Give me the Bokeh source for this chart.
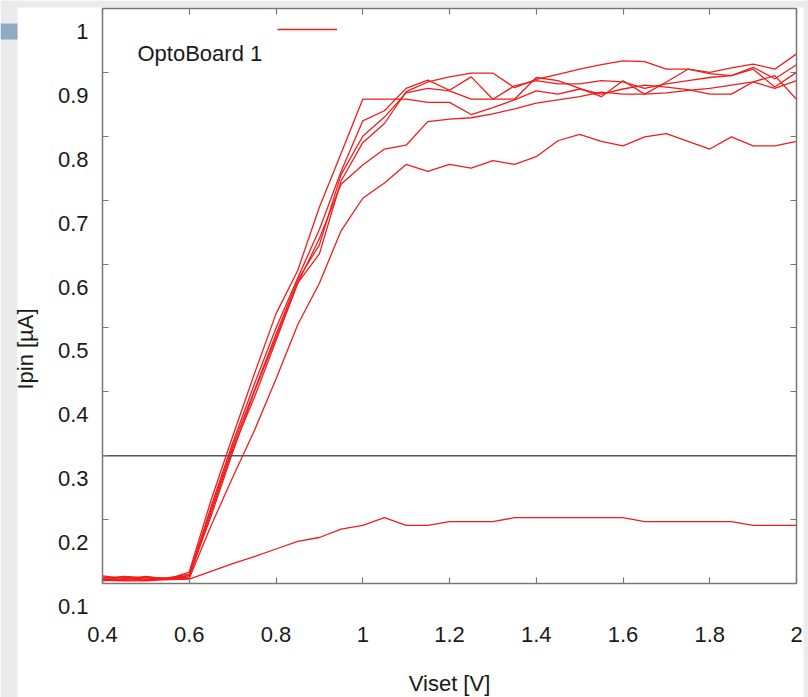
from bokeh.plotting import figure
from bokeh.models import (Label, Legend, LegendItem, LinearAxis, FixedTicker, Range1d,
                          BoxAnnotation)
from bokeh.embed import file_html
from bokeh.resources import INLINE

# ---------------- data ----------------
viset = [0.40, 0.45, 0.50, 0.55, 0.60, 0.65, 0.70, 0.75, 0.80, 0.85, 0.90,
         0.95, 1.00, 1.05, 1.10, 1.15, 1.20, 1.25, 1.30, 1.35, 1.40, 1.45,
         1.50, 1.55, 1.60, 1.65, 1.70, 1.75, 1.80, 1.85, 1.90, 1.95, 2.00]

ipin_a = [0.110, 0.106, 0.111, 0.107, 0.118, 0.230, 0.330, 0.428, 0.522, 0.590, 0.689,
          0.773, 0.858, 0.858, 0.858, 0.853, 0.853, 0.834, 0.845, 0.857, 0.871, 0.866,
          0.874, 0.866, 0.874, 0.880, 0.877, 0.873, 0.866, 0.866, 0.885, 0.875, 0.887]
ipin_b = [0.106, 0.110, 0.107, 0.109, 0.112, 0.220, 0.320, 0.412, 0.500, 0.578, 0.654,
          0.745, 0.824, 0.840, 0.875, 0.888, 0.872, 0.893, 0.858, 0.858, 0.892, 0.887,
          0.875, 0.862, 0.887, 0.866, 0.885, 0.905, 0.898, 0.895, 0.908, 0.890, 0.912]
ipin_c = [0.112, 0.108, 0.105, 0.108, 0.115, 0.215, 0.315, 0.402, 0.490, 0.575, 0.630,
          0.740, 0.800, 0.830, 0.868, 0.875, 0.871, 0.858, 0.858, 0.879, 0.887, 0.882,
          0.882, 0.887, 0.885, 0.875, 0.882, 0.887, 0.892, 0.895, 0.905, 0.877, 0.900]
ipin_d = [0.108, 0.111, 0.109, 0.106, 0.113, 0.205, 0.305, 0.400, 0.485, 0.570, 0.640,
          0.725, 0.755, 0.780, 0.786, 0.823, 0.827, 0.829, 0.835, 0.843, 0.852, 0.857,
          0.862, 0.869, 0.866, 0.866, 0.868, 0.872, 0.875, 0.880, 0.885, 0.895, 0.858]
ipin_e = [0.104, 0.107, 0.110, 0.108, 0.110, 0.210, 0.310, 0.391, 0.480, 0.570, 0.616,
          0.730, 0.790, 0.820, 0.870, 0.885, 0.893, 0.899, 0.899, 0.876, 0.889, 0.897,
          0.905, 0.912, 0.918, 0.917, 0.905, 0.905, 0.900, 0.907, 0.913, 0.905, 0.929]
ipin_f = [0.107, 0.105, 0.106, 0.107, 0.108, 0.190, 0.266, 0.339, 0.420, 0.505, 0.570,
          0.652, 0.703, 0.727, 0.756, 0.745, 0.756, 0.750, 0.762, 0.756, 0.768, 0.793,
          0.803, 0.792, 0.785, 0.799, 0.804, 0.792, 0.780, 0.799, 0.785, 0.785, 0.792]
ipin_g = [0.105, 0.104, 0.104, 0.106, 0.107, 0.119, 0.131, 0.142, 0.154, 0.166, 0.172,
          0.185, 0.191, 0.203, 0.191, 0.191, 0.197, 0.197, 0.197, 0.203, 0.203, 0.203,
          0.203, 0.203, 0.203, 0.197, 0.197, 0.197, 0.197, 0.197, 0.191, 0.191, 0.191]

threshold = 0.3

xticks = [0.4, 0.6, 0.8, 1.0, 1.2, 1.4, 1.6, 1.8, 2.0]
xtick_labels = ["0.4", "0.6", "0.8", "1", "1.2", "1.4", "1.6", "1.8", "2"]
yticks = [0.1, 0.2, 0.3, 0.4, 0.5, 0.6, 0.7, 0.8, 0.9, 1.0]
ytick_labels = ["0.1", "0.2", "0.3", "0.4", "0.5", "0.6", "0.7", "0.8", "0.9", "1"]

legend_label = "OptoBoard 1"
x_title = "Viset [V]"
y_title = "Ipin [\u00b5A]"

# ---------------- layout / styling ----------------
FONT = "Liberation Sans"
RED = "#f21c1c"
FRAME = "#777777"
TXT = "#1a1a1a"
PAGE_GREY = "#ebebeb"
SLIDE_BLUE = "#8faac4"

W, H = 808, 697
# the axis box, in page pixels
BOX_L, BOX_R, BOX_T, BOX_B = 102, 796, 8, 583
# white sheet edges (grey slide border outside of it), in page pixels
SHEET_L, SHEET_R, SHEET_T = 17, 803, 7

XMIN, XMAX = xticks[0], xticks[-1]
YLO, YHI = yticks[0], yticks[-1]
xpp = (XMAX - XMIN) / (BOX_R - BOX_L)
ypp = (YHI - YLO) / (BOX_B - BOX_T)


def px_x(px):
    return XMIN + (px - BOX_L) * xpp


def px_y(py):
    return YLO + (BOX_B - py) * ypp


label_shift = 23 * ypp          # tick labels sit lower than their ticks

p = figure(width=W, height=H, output_backend="svg", toolbar_location=None,
           x_range=Range1d(px_x(0), px_x(W)), y_range=Range1d(px_y(H), px_y(0)),
           min_border_left=0, min_border_right=0, min_border_top=0,
           min_border_bottom=0)
p.extra_y_ranges = {"lab": Range1d(px_y(H) + label_shift, px_y(0) + label_shift)}
p.xgrid.visible = False
p.ygrid.visible = False
p.outline_line_color = None
p.background_fill_color = "white"
p.border_fill_color = "white"

# grey slide border and the small blue slide mark
for box in [dict(right=px_x(SHEET_L)), dict(bottom=px_y(SHEET_T)),
            dict(left=px_x(SHEET_R))]:
    p.add_layout(BoxAnnotation(fill_color=PAGE_GREY, fill_alpha=1, line_color=None,
                               level="underlay", **box))
p.add_layout(BoxAnnotation(right=px_x(SHEET_L), top=px_y(23), bottom=px_y(39),
                           fill_color=SLIDE_BLUE, fill_alpha=1, line_color=None,
                           level="underlay"))

series = [ipin_a, ipin_b, ipin_c, ipin_d, ipin_e, ipin_f, ipin_g]
renderers = [p.line(viset, ys, line_color=RED, line_width=1.3) for ys in series]

# horizontal reference line across the box
p.segment(x0=[XMIN], y0=[threshold], x1=[XMAX], y1=[threshold],
          line_color="#555555", line_width=1.5)

tick_style = dict(major_tick_in=6, major_tick_out=0, minor_tick_line_color=None,
                  axis_line_color=FRAME, axis_line_width=1.5,
                  major_tick_line_color=FRAME, major_tick_line_width=1.2)

# bottom axis at the bottom of the box
xa = p.xaxis[0]
xa.fixed_location = YLO
xa.bounds = (XMIN, XMAX)
xa.ticker = FixedTicker(ticks=xticks)
xa.major_label_overrides = {t: s for t, s in zip(xticks, xtick_labels)}
for k, v in tick_style.items():
    setattr(xa, k, v)
xa.major_label_standoff = 43
xa.major_label_text_font = FONT
xa.major_label_text_font_size = "22px"
xa.major_label_text_color = TXT
xa.axis_label = x_title
xa.axis_label_text_font = FONT
xa.axis_label_text_font_size = "22px"
xa.axis_label_text_font_style = "normal"
xa.axis_label_text_color = TXT
xa.axis_label_standoff = 26

# left box edge with inward ticks
ya = p.yaxis[0]
ya.fixed_location = XMIN
ya.ticker = FixedTicker(ticks=yticks)
ya.bounds = (YLO, YHI)
for k, v in tick_style.items():
    setattr(ya, k, v)
ya.major_label_text_color = None

# left tick labels (offset below their ticks, as in the reference)
yl = LinearAxis(y_range_name="lab", fixed_location=XMIN,
                ticker=FixedTicker(ticks=yticks),
                major_label_overrides={t: s for t, s in zip(yticks, ytick_labels)},
                axis_line_color=None, major_tick_line_color=None,
                minor_tick_line_color=None, major_tick_out=0, major_tick_in=0,
                major_label_standoff=14, major_label_text_font=FONT,
                major_label_text_font_size="22px", major_label_text_color=TXT,
                axis_label=y_title, axis_label_text_font=FONT,
                axis_label_text_font_size="22px", axis_label_text_font_style="normal",
                axis_label_text_color=TXT, axis_label_standoff=17)
p.add_layout(yl, "left")

# top and right box edges with inward ticks
top = LinearAxis(ticker=FixedTicker(ticks=xticks), fixed_location=YHI,
                 bounds=(XMIN, XMAX), major_label_text_color=None, **tick_style)
p.add_layout(top, "above")
right = LinearAxis(ticker=FixedTicker(ticks=yticks), fixed_location=XMAX,
                   bounds=(YLO, YHI), major_label_text_color=None, **tick_style)
p.add_layout(right, "right")

# legend: sample line; its text sits below-left as in the reference
legend = Legend(items=[LegendItem(label=" ", renderers=[renderers[0]])],
                location=(277, H - 29 - 5), glyph_width=60, glyph_height=10,
                label_height=10, label_width=0, label_standoff=0,
                label_text_font_size="1px", padding=0, margin=0, spacing=0,
                background_fill_alpha=0, border_line_color=None)
p.add_layout(legend, "center")
p.add_layout(Label(x=137, y=H - 53, x_units="screen", y_units="screen",
                   text=legend_label, text_font=FONT, text_font_size="22px",
                   text_baseline="middle", text_color=TXT))

open("out.html", "w").write(file_html(p, INLINE))
